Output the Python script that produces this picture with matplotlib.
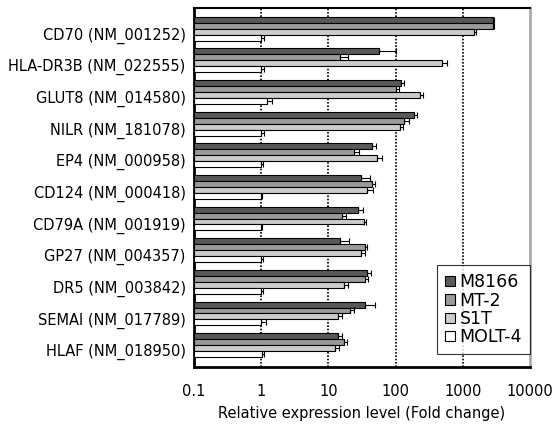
import numpy as np
import matplotlib
matplotlib.use("Agg")
import matplotlib.pyplot as plt

# gene labels, top to bottom
genes = ["CD70 (NM_001252)", "HLA-DR3B (NM_022555)", "GLUT8 (NM_014580)",
         "NILR (NM_181078)", "EP4 (NM_000958)", "CD124 (NM_000418)",
         "CD79A (NM_001919)", "GP27 (NM_004357)", "DR5 (NM_003842)",
         "SEMAI (NM_017789)", "HLAF (NM_018950)"]

series_names = ["M8166", "MT-2", "S1T", "MOLT-4"]

# fold change values
m8166 = [2770, 56, 119, 188, 44, 31, 28, 15, 38, 35, 14]
mt2 = [2770, 15, 100, 133, 24, 45, 16, 35, 35, 21, 17]
s1t = [1475, 497, 231, 116, 52, 38, 34, 31, 17, 14, 12.7]
molt4 = [1.0, 1.0, 1.2, 1.0, 1.0, 0.98, 0.98, 1.0, 1.0, 0.98, 1.03]

# upper error (positive side only)
m8166_err = [160, 44, 14, 18, 7, 10, 5, 5, 4.5, 14, 2]
mt2_err = [160, 4.7, 12, 25, 4.5, 5, 2, 3, 3.7, 3, 2]
s1t_err = [90, 91, 28, 14, 11, 8, 2.6, 4.6, 2.5, 1.7, 1.6]
molt4_err = [0.12, 0.12, 0.25, 0.12, 0.08, 0.05, 0.05, 0.08, 0.05, 0.2, 0.08]

xticks = [0.1, 1, 10, 100, 1000, 10000]
xtick_labels = ["0.1", "1", "10", "100", "1000", "10000"]

colors = ["#595959", "#9a9a9a", "#cccccc", "#ffffff"]

plt.rcParams["font.family"] = ["DejaVu Sans"]

fig = plt.figure(figsize=(5.55, 4.34), dpi=100)
ax = fig.add_axes([0.3495, 0.1544, 0.6055, 0.8272])

data = [m8166, mt2, s1t, molt4]
errs = [m8166_err, mt2_err, s1t_err, molt4_err]
x0 = 0.1
bar_h = 0.189
y = np.arange(len(genes))

for k in range(4):
    vals = np.array(data[k], dtype=float)
    e = np.array(errs[k], dtype=float)
    ypos = y - 2 * bar_h + bar_h * (k + 0.5)
    ax.barh(ypos, vals - x0, left=x0, height=bar_h, color=colors[k],
            edgecolor="black", linewidth=0.8, label=series_names[k], zorder=3,
            xerr=[np.zeros_like(e), e],
            error_kw=dict(ecolor="black", elinewidth=0.8, capsize=2.2,
                          capthick=0.8, zorder=4))

ax.set_xscale("log")
ax.set_xlim(0.1, 10000)
ax.set_ylim(10.69, -0.65)
ax.set_xticks(xticks)
ax.set_xticklabels(xtick_labels)
ax.minorticks_off()
ax.set_yticks(y + 0.16)
ax.set_yticklabels(genes)
ax.tick_params(axis="both", length=0, labelsize=10.5)
ax.tick_params(axis="x", pad=12)
ax.tick_params(axis="y", pad=6)

for xv in [1, 10, 100, 1000]:
    ax.axvline(xv, color="black", linestyle=(0, (1, 1)), linewidth=1.2, zorder=1)

ax.spines["left"].set_linewidth(2)
ax.spines["bottom"].set_linewidth(2)
ax.spines["top"].set_linewidth(1.5)
ax.spines["right"].set_color("#aaaaaa")
ax.spines["right"].set_linewidth(2)

ax.set_xlabel("Relative expression level (Fold change)", fontsize=10.5, labelpad=5)

leg = ax.legend(loc="lower right", bbox_to_anchor=(1.0, 0.036), fontsize=12.5,
                frameon=True, fancybox=False, borderaxespad=0,
                handlelength=0.55, handleheight=0.55, handletextpad=0.3,
                labelspacing=0.02, borderpad=0.45)
leg.get_frame().set_edgecolor("black")
leg.get_frame().set_linewidth(0.8)

fig.savefig("out.png", dpi=100)
